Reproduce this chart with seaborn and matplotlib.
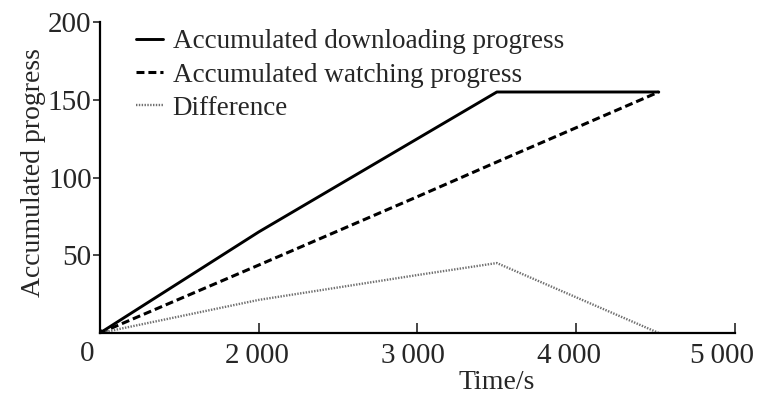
import numpy as np
import pandas as pd
import matplotlib
matplotlib.use("Agg")
import matplotlib.pyplot as plt
import matplotlib.transforms as mtransforms
import seaborn as sns

# Time stamps (s) and accumulated progress of each curve
times = [0, 2000, 3000, 3500, 4520]
downloading = [0, 65, 125, 155, 155]
watching = [0, 43.7, 87.7, 110, 155]
difference = [0, 21.3, 37.3, 45, 0]

labels = ["Accumulated downloading progress",
          "Accumulated watching progress",
          "Difference"]
x_ticks = [2000, 3000, 4000, 5000]
x_tick_labels = ["2\u2009000", "3\u2009000", "4\u2009000", "5\u2009000"]
y_ticks = [50, 100, 150, 200]

sns.set_style("ticks")
plt.rcParams["font.family"] = ["Liberation Serif", "DejaVu Serif"]

fig = plt.figure(figsize=(7.61, 4.04), dpi=100)
ax = fig.add_axes([0.1314, 0.1757, 0.8344, 0.7698])

# compressed segment at the start of the time axis
def fwd(t):
    t = np.asarray(t, dtype=float)
    return np.where(t < 2000, 1000 + t / 2.0, t)

def inv(p):
    p = np.asarray(p, dtype=float)
    return np.where(p < 2000, 2.0 * (p - 1000), p)

ax.set_xscale("function", functions=(fwd, inv))

df = pd.DataFrame({"time": times, "down": downloading,
                   "watch": watching, "diff": difference})

sns.lineplot(data=df, x="time", y="down", ax=ax, color="black",
             lw=2.1, label=labels[0], sort=False)
sns.lineplot(data=df, x="time", y="watch", ax=ax, color="black",
             lw=2.2, label=labels[1], sort=False)
sns.lineplot(data=df, x="time", y="diff", ax=ax, color="#707070",
             lw=1.7, label=labels[2], sort=False)

lines = ax.get_lines()
lines[1].set_dashes((2.6, 1.3))
lines[2].set_dashes((0.6, 0.6))

# dot at the common origin
ax.plot([times[0]], [downloading[0]], marker="o", ms=5, color="black",
        linestyle="none", zorder=5)

ax.set_xlim(0, 5000)
ax.set_ylim(0, 200)
ax.set_xticks(x_ticks)
ax.set_xticklabels(x_tick_labels)
ax.set_yticks(y_ticks)
ax.set_yticklabels([str(v) for v in y_ticks])

ax.tick_params(axis="x", direction="in", length=7, width=1.2,
               labelsize=21, pad=7)
ax.tick_params(axis="y", direction="out", length=5, width=1.2,
               labelsize=21, pad=1)

# nudge the time labels slightly to the left
for lab, dx in zip(ax.get_xticklabels(), [-2, -5, -7, -13]):
    shift = mtransforms.ScaledTranslation(dx / 100.0, 0, fig.dpi_scale_trans)
    lab.set_transform(lab.get_transform() + shift)

for s in ["top", "right"]:
    ax.spines[s].set_visible(False)
for s in ["left", "bottom"]:
    ax.spines[s].set_linewidth(1.6)
    ax.spines[s].set_color("black")

ax.annotate("0", xy=(0, 0), xycoords=("axes fraction", "data"),
            xytext=(-9, -6), textcoords="offset points",
            ha="center", va="top", fontsize=21)

ax.set_xlabel("Time/s", fontsize=20)
ax.xaxis.set_label_coords(0.624, -0.12)
ax.set_ylabel("Accumulated progress", fontsize=20)
ax.yaxis.set_label_coords(-0.085, 0.515)

leg = ax.legend(loc="upper left", bbox_to_anchor=(0.057, 0.977),
                frameon=False, fontsize=19.5, handlelength=1.0,
                handletextpad=0.35, labelspacing=0.31, borderpad=0,
                borderaxespad=0)

fig.savefig("out.png", dpi=100, facecolor="white")
